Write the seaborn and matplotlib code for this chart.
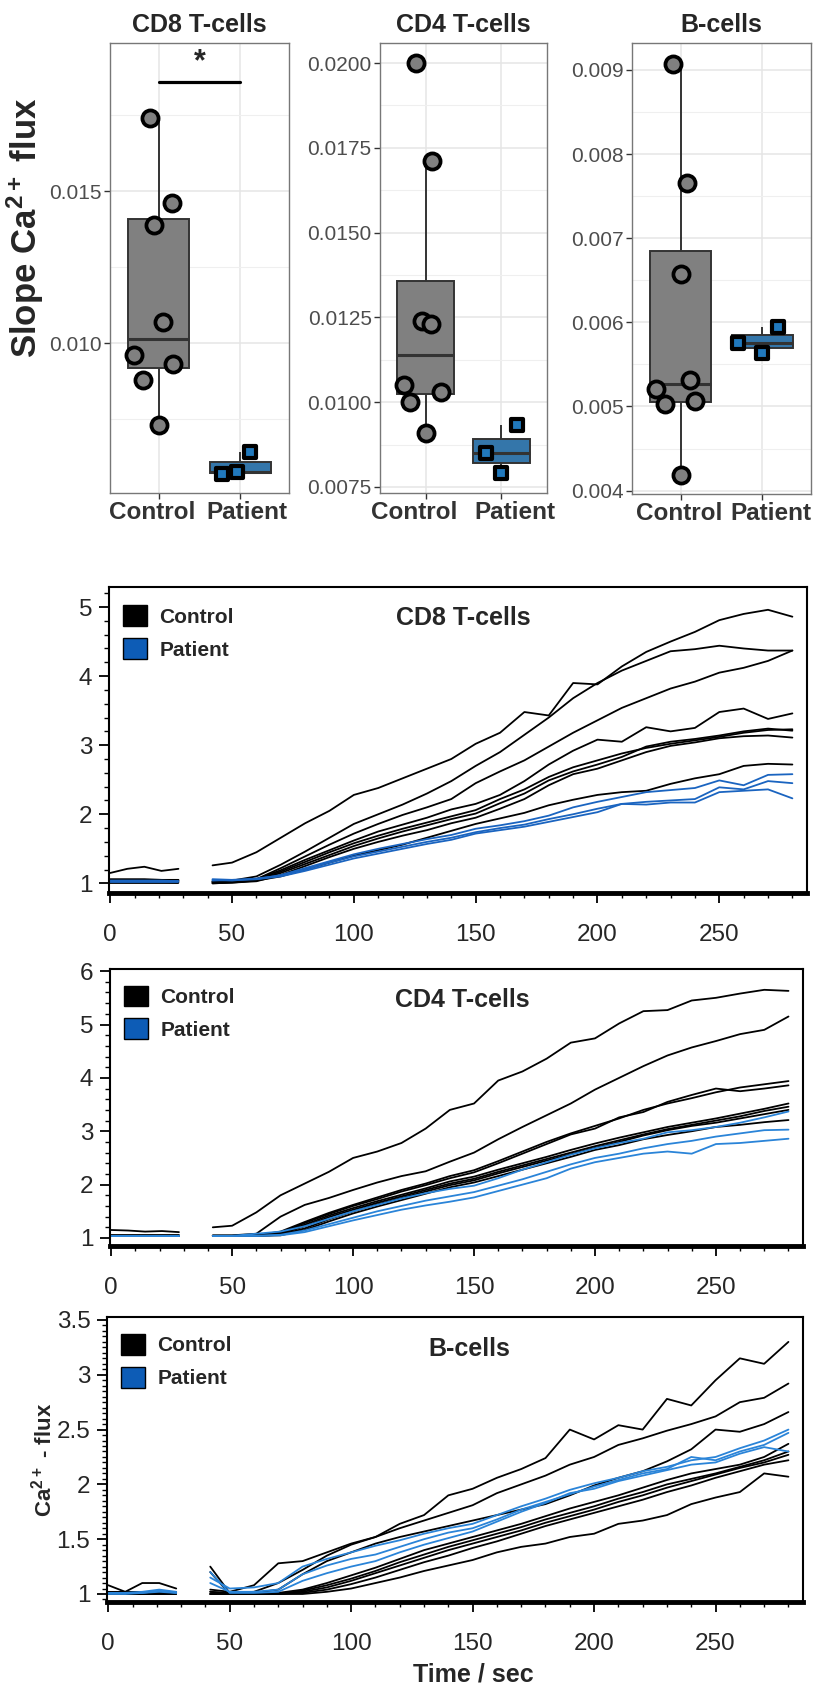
import numpy as np
import pandas as pd
import matplotlib
matplotlib.use("Agg")
import matplotlib.pyplot as plt
import matplotlib.transforms as mtransforms
from matplotlib.patches import Patch
from matplotlib.ticker import MultipleLocator, FormatStrFormatter, FixedLocator
import seaborn as sns

groups = ["Control", "Patient"]

# ---- slopes (top boxplots) ----
cd8_ctrl_slope = [0.0174, 0.0146, 0.0139, 0.0107, 0.0096, 0.0093, 0.0088, 0.0073]
cd8_pat_slope = [0.00568, 0.00575, 0.00642]
cd4_ctrl_slope = [0.0200, 0.0171, 0.0124, 0.0123, 0.0105, 0.0100, 0.0103, 0.0091]
cd4_pat_slope = [0.00932, 0.00850, 0.00791]
b_ctrl_slope = [0.00907, 0.00766, 0.00657, 0.00532, 0.00521, 0.00506, 0.00503, 0.00419]
b_pat_slope = [0.00595, 0.00575, 0.00563]

# horizontal jitter of the points (category units)
cd8_ctrl_jit = [-0.11, 0.16, -0.06, 0.05, -0.30, 0.17, -0.19, 0.0]
cd8_pat_jit = [-0.22, -0.04, 0.12]
cd4_ctrl_jit = [-0.12, 0.09, -0.05, 0.07, -0.29, -0.21, 0.20, 0.0]
cd4_pat_jit = [0.20, -0.20, 0.0]
b_ctrl_jit = [-0.10, 0.07, 0.0, 0.11, -0.30, 0.17, -0.20, 0.0]
b_pat_jit = [0.20, -0.30, 0.0]

cd8_sig_y = 0.01859
cd8_star_y = 0.01925

# ---- Ca2+ flux traces ----
t_pre = [0, 7, 14, 21, 28]
t_post = [42, 50, 60, 70, 80, 90, 100, 110, 120, 130, 140, 150, 160,
          170, 180, 190, 200, 210, 220, 230, 240, 250, 260, 270, 280]

cd8_ctrl_pre = [
    [1.15, 1.21, 1.24, 1.18, 1.21],
    [1.06, 1.06, 1.06, 1.05, 1.05],
    [1.05, 1.05, 1.05, 1.05, 1.04],
    [1.04, 1.04, 1.04, 1.04, 1.03],
    [1.03, 1.03, 1.03, 1.03, 1.03],
    [1.02, 1.02, 1.02, 1.02, 1.02],
    [1.02, 1.02, 1.02, 1.02, 1.01],
    [1.01, 1.01, 1.01, 1.01, 1.01],
]
cd8_ctrl_post = [
    [1.26, 1.30, 1.45, 1.66, 1.87, 2.05, 2.28, 2.38, 2.52, 2.66, 2.80, 3.02, 3.18, 3.48, 3.43, 3.90, 3.88, 4.14, 4.35, 4.50, 4.64, 4.81, 4.90, 4.96, 4.86],
    [1.03, 1.04, 1.10, 1.27, 1.46, 1.66, 1.86, 2.00, 2.14, 2.30, 2.48, 2.70, 2.90, 3.15, 3.40, 3.68, 3.90, 4.08, 4.22, 4.36, 4.39, 4.44, 4.40, 4.37, 4.37],
    [1.02, 1.03, 1.06, 1.22, 1.39, 1.56, 1.72, 1.86, 1.99, 2.10, 2.22, 2.45, 2.62, 2.78, 2.98, 3.18, 3.36, 3.54, 3.68, 3.82, 3.92, 4.05, 4.12, 4.22, 4.37],
    [1.02, 1.03, 1.06, 1.19, 1.34, 1.48, 1.62, 1.75, 1.85, 1.95, 2.07, 2.15, 2.28, 2.48, 2.72, 2.92, 3.08, 3.05, 3.26, 3.20, 3.25, 3.48, 3.53, 3.38, 3.46],
    [1.01, 1.02, 1.05, 1.17, 1.31, 1.45, 1.58, 1.69, 1.79, 1.88, 1.97, 2.06, 2.22, 2.36, 2.54, 2.68, 2.78, 2.88, 2.96, 3.02, 3.07, 3.12, 3.18, 3.22, 3.23],
    [1.00, 1.01, 1.04, 1.15, 1.28, 1.41, 1.54, 1.65, 1.75, 1.84, 1.93, 2.01, 2.16, 2.30, 2.49, 2.62, 2.72, 2.83, 2.98, 3.05, 3.09, 3.14, 3.20, 3.24, 3.21],
    [1.00, 1.01, 1.03, 1.12, 1.25, 1.38, 1.50, 1.60, 1.69, 1.77, 1.87, 1.95, 2.08, 2.22, 2.42, 2.58, 2.66, 2.78, 2.90, 2.99, 3.04, 3.10, 3.13, 3.14, 3.11],
    [1.02, 1.02, 1.04, 1.10, 1.20, 1.30, 1.40, 1.48, 1.56, 1.66, 1.76, 1.86, 1.94, 2.02, 2.13, 2.21, 2.28, 2.32, 2.34, 2.44, 2.52, 2.58, 2.70, 2.73, 2.72],
]
cd8_pat_pre = [
    [1.04, 1.04, 1.04, 1.04, 1.03],
    [1.03, 1.03, 1.03, 1.03, 1.03],
    [1.02, 1.02, 1.02, 1.02, 1.02],
]
cd8_pat_post = [
    [1.04, 1.05, 1.06, 1.12, 1.22, 1.32, 1.42, 1.50, 1.57, 1.64, 1.70, 1.79, 1.84, 1.90, 1.98, 2.10, 2.18, 2.25, 2.32, 2.35, 2.38, 2.49, 2.42, 2.57, 2.58],
    [1.05, 1.04, 1.07, 1.11, 1.20, 1.30, 1.39, 1.46, 1.53, 1.60, 1.66, 1.74, 1.80, 1.85, 1.93, 2.00, 2.08, 2.15, 2.18, 2.20, 2.22, 2.39, 2.36, 2.48, 2.45],
    [1.06, 1.05, 1.06, 1.10, 1.18, 1.27, 1.36, 1.43, 1.50, 1.57, 1.63, 1.72, 1.77, 1.82, 1.89, 1.96, 2.03, 2.15, 2.14, 2.17, 2.17, 2.32, 2.34, 2.36, 2.23],
]

cd4_ctrl_pre = [
    [1.15, 1.14, 1.12, 1.13, 1.11],
    [1.05, 1.05, 1.05, 1.05, 1.05],
    [1.04, 1.04, 1.04, 1.04, 1.04],
    [1.04, 1.04, 1.04, 1.04, 1.04],
    [1.04, 1.04, 1.04, 1.04, 1.04],
    [1.04, 1.04, 1.04, 1.04, 1.04],
    [1.04, 1.04, 1.04, 1.04, 1.04],
    [1.04, 1.04, 1.04, 1.04, 1.04],
]
cd4_ctrl_post = [
    [1.20, 1.23, 1.48, 1.80, 2.02, 2.24, 2.50, 2.62, 2.78, 3.05, 3.40, 3.52, 3.95, 4.12, 4.36, 4.66, 4.74, 5.02, 5.25, 5.27, 5.45, 5.50, 5.58, 5.65, 5.63],
    [1.05, 1.05, 1.08, 1.40, 1.62, 1.75, 1.90, 2.04, 2.16, 2.25, 2.43, 2.60, 2.85, 3.08, 3.30, 3.52, 3.78, 4.00, 4.22, 4.42, 4.57, 4.69, 4.82, 4.90, 5.15],
    [1.04, 1.04, 1.05, 1.12, 1.30, 1.47, 1.62, 1.76, 1.90, 2.02, 2.16, 2.27, 2.44, 2.62, 2.80, 2.96, 3.10, 3.24, 3.40, 3.52, 3.62, 3.73, 3.82, 3.88, 3.94],
    [1.04, 1.04, 1.05, 1.10, 1.28, 1.45, 1.60, 1.73, 1.87, 1.99, 2.12, 2.23, 2.40, 2.58, 2.76, 2.94, 3.05, 3.26, 3.36, 3.55, 3.68, 3.80, 3.75, 3.80, 3.86],
    [1.04, 1.04, 1.05, 1.09, 1.25, 1.42, 1.56, 1.69, 1.81, 1.93, 2.06, 2.15, 2.28, 2.40, 2.52, 2.65, 2.77, 2.88, 2.98, 3.08, 3.16, 3.24, 3.33, 3.42, 3.52],
    [1.04, 1.04, 1.05, 1.07, 1.22, 1.39, 1.53, 1.66, 1.78, 1.90, 2.02, 2.11, 2.24, 2.36, 2.48, 2.60, 2.72, 2.83, 2.94, 3.04, 3.12, 3.20, 3.28, 3.38, 3.46],
    [1.04, 1.04, 1.04, 1.06, 1.18, 1.35, 1.50, 1.63, 1.75, 1.87, 1.99, 2.08, 2.21, 2.33, 2.45, 2.57, 2.69, 2.80, 2.92, 3.02, 3.10, 3.16, 3.24, 3.32, 3.40],
    [1.04, 1.04, 1.04, 1.05, 1.15, 1.31, 1.46, 1.59, 1.71, 1.83, 1.95, 2.04, 2.16, 2.28, 2.40, 2.52, 2.65, 2.74, 2.85, 2.93, 3.00, 3.08, 3.12, 3.17, 3.21],
]
cd4_pat_pre = [
    [1.04, 1.04, 1.04, 1.04, 1.04],
    [1.04, 1.04, 1.04, 1.04, 1.04],
    [1.04, 1.04, 1.04, 1.04, 1.04],
]
cd4_pat_post = [
    [1.04, 1.04, 1.08, 1.12, 1.22, 1.36, 1.50, 1.62, 1.74, 1.84, 1.92, 1.98, 2.12, 2.28, 2.42, 2.56, 2.68, 2.78, 2.86, 2.98, 3.02, 3.08, 3.16, 3.26, 3.37],
    [1.04, 1.04, 1.04, 1.06, 1.14, 1.26, 1.38, 1.50, 1.60, 1.70, 1.78, 1.86, 1.98, 2.10, 2.24, 2.38, 2.50, 2.58, 2.68, 2.76, 2.82, 2.90, 2.96, 3.02, 3.03],
    [1.04, 1.04, 1.04, 1.05, 1.11, 1.22, 1.33, 1.43, 1.53, 1.61, 1.68, 1.76, 1.88, 2.00, 2.12, 2.30, 2.42, 2.50, 2.58, 2.62, 2.58, 2.76, 2.78, 2.82, 2.86],
]

b_ctrl_pre = [
    [1.08, 1.02, 1.10, 1.10, 1.05],
    [1.02, 1.02, 1.02, 1.02, 1.02],
    [1.02, 1.02, 1.02, 1.02, 1.02],
    [1.01, 1.01, 1.01, 1.01, 1.01],
    [1.01, 1.01, 1.01, 1.01, 1.01],
    [1.00, 1.00, 1.00, 1.00, 1.00],
    [1.00, 1.00, 1.00, 1.00, 1.00],
    [1.00, 1.00, 1.00, 1.00, 1.00],
]
b_ctrl_post = [
    [1.04, 1.02, 1.08, 1.28, 1.30, 1.38, 1.46, 1.52, 1.64, 1.72, 1.90, 1.96, 2.06, 2.14, 2.24, 2.50, 2.41, 2.54, 2.50, 2.78, 2.72, 2.95, 3.15, 3.10, 3.30],
    [1.25, 1.01, 1.02, 1.10, 1.22, 1.35, 1.45, 1.52, 1.60, 1.67, 1.74, 1.81, 1.92, 2.00, 2.08, 2.18, 2.25, 2.36, 2.42, 2.49, 2.55, 2.62, 2.75, 2.79, 2.92],
    [1.02, 1.01, 1.01, 1.04, 1.18, 1.30, 1.38, 1.46, 1.52, 1.57, 1.62, 1.67, 1.72, 1.77, 1.82, 1.90, 1.99, 2.06, 2.12, 2.21, 2.32, 2.50, 2.48, 2.55, 2.66],
    [1.20, 1.00, 1.00, 1.01, 1.04, 1.10, 1.17, 1.24, 1.32, 1.40, 1.46, 1.52, 1.58, 1.64, 1.71, 1.78, 1.84, 1.90, 1.97, 2.04, 2.10, 2.14, 2.18, 2.25, 2.37],
    [1.02, 1.00, 1.00, 1.00, 1.03, 1.08, 1.14, 1.21, 1.29, 1.36, 1.43, 1.49, 1.55, 1.61, 1.68, 1.74, 1.80, 1.87, 1.93, 2.00, 2.05, 2.10, 2.16, 2.22, 2.30],
    [1.00, 1.00, 1.00, 1.00, 1.02, 1.06, 1.12, 1.19, 1.26, 1.33, 1.40, 1.46, 1.52, 1.58, 1.65, 1.71, 1.77, 1.84, 1.90, 1.97, 2.03, 2.09, 2.15, 2.20, 2.27],
    [1.00, 1.00, 1.00, 1.00, 1.01, 1.04, 1.09, 1.15, 1.22, 1.29, 1.35, 1.42, 1.48, 1.55, 1.62, 1.68, 1.74, 1.80, 1.86, 1.93, 1.99, 2.06, 2.12, 2.18, 2.22],
    [1.00, 1.00, 1.00, 1.00, 1.00, 1.02, 1.05, 1.10, 1.15, 1.21, 1.26, 1.31, 1.38, 1.43, 1.46, 1.52, 1.55, 1.64, 1.67, 1.72, 1.82, 1.88, 1.93, 2.10, 2.07],
]
b_pat_pre = [
    [1.01, 1.01, 1.02, 1.04, 1.02],
    [1.01, 1.01, 1.01, 1.03, 1.01],
    [1.00, 1.00, 1.01, 1.02, 1.01],
]
b_pat_post = [
    [1.15, 1.05, 1.06, 1.10, 1.25, 1.32, 1.38, 1.44, 1.49, 1.55, 1.60, 1.64, 1.72, 1.80, 1.87, 1.95, 2.01, 2.06, 2.12, 2.16, 2.22, 2.25, 2.33, 2.40, 2.50],
    [1.10, 1.02, 1.02, 1.04, 1.18, 1.26, 1.32, 1.36, 1.43, 1.50, 1.56, 1.60, 1.68, 1.77, 1.84, 1.91, 1.98, 2.04, 2.10, 2.14, 2.25, 2.22, 2.30, 2.36, 2.47],
    [1.20, 1.01, 1.01, 1.02, 1.12, 1.19, 1.25, 1.30, 1.38, 1.45, 1.51, 1.57, 1.66, 1.75, 1.83, 1.92, 1.96, 2.03, 2.08, 2.13, 2.18, 2.20, 2.28, 2.34, 2.30],
]

# ---- style ----
sns.set_theme(style="white")
plt.rcParams["font.family"] = ["Liberation Sans", "DejaVu Sans"]
plt.rcParams["mathtext.fontset"] = "custom"
plt.rcParams["mathtext.rm"] = "Liberation Sans"
plt.rcParams["mathtext.bf"] = "Liberation Sans:bold"

GREY = "#808080"
BOX_BLUE = "#2179bd"
LEG_BLUE = "#0d5cb6"

W, H = 817, 1686
fig = plt.figure(figsize=(W / 100, H / 100), dpi=100)
fig.patch.set_facecolor("white")


def px_rect(left, top, right, bottom):
    return [left / W, 1 - bottom / H, (right - left) / W, (bottom - top) / H]


def box_panel(rect, title, ctrl, pat, ctrl_jit, pat_jit, ylim, major, minor, fmt, lbl_shift):
    ax = fig.add_axes(rect)
    df = pd.DataFrame({"group": ["Control"] * len(ctrl) + ["Patient"] * len(pat),
                       "slope": ctrl + pat})
    sns.boxplot(data=df, x="group", y="slope", hue="group", order=groups,
                palette={"Control": GREY, "Patient": BOX_BLUE}, width=0.75,
                showfliers=False, linewidth=1.4, linecolor="#333333",
                capprops={"visible": False}, medianprops={"linewidth": 2.2},
                legend=False, ax=ax)
    pts = df.copy()
    pts["xpos"] = [0 + j for j in ctrl_jit] + [1 + j for j in pat_jit]
    sns.scatterplot(data=pts[pts.group == "Control"], x="xpos", y="slope", marker="o",
                    s=135, color=GREY, edgecolor="black", linewidth=2.7, zorder=5, ax=ax)
    sns.scatterplot(data=pts[pts.group == "Patient"], x="xpos", y="slope", marker="s",
                    s=64, color=BOX_BLUE, edgecolor="black", linewidth=3.0, zorder=5, ax=ax)
    ax.set_xlim(-0.6, 1.6)
    ax.set_ylim(*ylim)
    ax.set_xticks([0, 1])
    ax.set_xticklabels(groups)
    ax.yaxis.set_major_locator(FixedLocator(major))
    ax.yaxis.set_minor_locator(FixedLocator(minor))
    ax.xaxis.set_minor_locator(FixedLocator([0.5]))
    ax.yaxis.set_major_formatter(FormatStrFormatter(fmt))
    ax.set_axisbelow(True)
    ax.grid(True, which="major", color="#e5e5e5", lw=1.1)
    ax.grid(True, which="minor", axis="y", color="#efefef", lw=0.8)
    ax.tick_params(axis="both", which="major", direction="out", length=4, width=1,
                   color="#333333", labelsize=15, labelcolor="#4d4d4d", pad=2,
                   bottom=True, left=True)
    ax.tick_params(which="minor", length=0)
    for lbl, dx in zip(ax.get_xticklabels(), lbl_shift):
        lbl.set_fontweight("bold")
        lbl.set_fontsize(17.5)
        lbl.set_color("#333333")
        lbl.set_transform(lbl.get_transform() +
                          mtransforms.ScaledTranslation(dx / 100, 0, fig.dpi_scale_trans))
    for s in ax.spines.values():
        s.set_color("#777777")
        s.set_linewidth(1.0)
    ax.set_xlabel("")
    ax.set_ylabel("")
    ax.set_title(title, fontsize=18, fontweight="bold", pad=8)
    return ax


def line_panel(rect, title, ctrl_pre, ctrl_post, pat_pre, pat_post, line_blue,
               ylim, ymajor, yminor, title_pos):
    rows = []
    for grp, pre, post in (("Control", ctrl_pre, ctrl_post), ("Patient", pat_pre, pat_post)):
        for i, (a, b) in enumerate(zip(pre, post)):
            rows += [(grp, f"{grp}{i}a", t, v) for t, v in zip(t_pre, a)]
            rows += [(grp, f"{grp}{i}b", t, v) for t, v in zip(t_post, b)]
    df = pd.DataFrame(rows, columns=["group", "unit", "time", "flux"])
    ax = fig.add_axes(rect)
    sns.lineplot(data=df, x="time", y="flux", hue="group", units="unit", estimator=None,
                 hue_order=groups, palette={"Control": "black", "Patient": line_blue},
                 lw=1.3, legend=False, ax=ax)
    ax.set_xlim(-0.5, 286)
    ax.set_ylim(*ylim)
    ax.xaxis.set_major_locator(MultipleLocator(50))
    ax.xaxis.set_minor_locator(MultipleLocator(10))
    ax.yaxis.set_major_locator(MultipleLocator(ymajor))
    ax.yaxis.set_minor_locator(MultipleLocator(yminor))
    ax.yaxis.set_major_formatter(FormatStrFormatter("%g"))
    ax.tick_params(axis="both", which="major", direction="out", length=7, width=1.3,
                   color="black", labelsize=17.5, bottom=True, left=True)
    ax.tick_params(axis="both", which="minor", direction="out", length=3.5, width=1.0,
                   color="black", bottom=True, left=True)
    ax.tick_params(axis="x", which="major", pad=15)
    ax.tick_params(axis="y", which="major", pad=5)
    for s in ax.spines.values():
        s.set_color("black")
        s.set_linewidth(1.5)
    ax.spines["bottom"].set_linewidth(3.5)
    ax.set_xlabel("")
    ax.set_ylabel("")
    ax.text(title_pos[0], title_pos[1], title, transform=ax.transAxes, ha="center",
            va="center", fontsize=18, fontweight="bold")
    handles = [Patch(facecolor="black", edgecolor="black"),
               Patch(facecolor=LEG_BLUE, edgecolor="black")]
    ax.legend(handles, groups, loc="upper left", bbox_to_anchor=(0.02, 0.94),
              frameon=False, borderpad=0, borderaxespad=0, handlelength=1.15,
              handleheight=1.15, handletextpad=0.6, labelspacing=0.55,
              prop={"weight": "bold", "size": 15})
    return ax


# ---- top row: slopes ----
ax1 = box_panel(px_rect(110, 43, 289, 493), "CD8 T-cells", cd8_ctrl_slope, cd8_pat_slope,
                cd8_ctrl_jit, cd8_pat_jit, (0.00507, 0.01987),
                [0.010, 0.015], [0.0075, 0.0125, 0.0175], "%.3f", (-7, 7))
ax1.plot([0, 1], [cd8_sig_y, cd8_sig_y], color="black", lw=2.3, zorder=6)
ax1.text(0.5, cd8_star_y, "*", ha="center", va="center", fontsize=22, fontweight="bold")

box_panel(px_rect(380, 43, 547, 493), "CD4 T-cells", cd4_ctrl_slope, cd4_pat_slope,
          cd4_ctrl_jit, cd4_pat_jit, (0.00732, 0.02059),
          [0.0075, 0.0100, 0.0125, 0.0150, 0.0175, 0.0200],
          [0.00875, 0.01125, 0.01375, 0.01625, 0.01875], "%.4f", (-11, 13))

box_panel(px_rect(632, 43, 811, 494), "B-cells", b_ctrl_slope, b_pat_slope,
          b_ctrl_jit, b_pat_jit, (0.00396, 0.00932),
          [0.004, 0.005, 0.006, 0.007, 0.008, 0.009],
          [0.0045, 0.0055, 0.0065, 0.0075, 0.0085], "%.3f", (-2, 9))

fig.text(25 / W, 1 - 228 / H, r"Slope $\mathbf{Ca^{2+}}$ flux", rotation=90,
         ha="center", va="center", fontsize=25, fontweight="bold")

# ---- line plots ----
line_panel(px_rect(109, 587, 807, 893), "CD8 T-cells", cd8_ctrl_pre, cd8_ctrl_post,
           cd8_pat_pre, cd8_pat_post, "#1a64c0", (0.86, 5.29), 1, 0.2, (0.507, 0.90))
line_panel(px_rect(110, 969, 803, 1246), "CD4 T-cells", cd4_ctrl_pre, cd4_ctrl_post,
           cd4_pat_pre, cd4_pat_post, "#2a84d8", (0.85, 6.04), 1, 0.2, (0.509, 0.888))
ax_b = line_panel(px_rect(107, 1317, 803, 1602), "B-cells", b_ctrl_pre, b_ctrl_post,
                  b_pat_pre, b_pat_post, "#2a84d8", (0.927, 3.527), 0.5, 0.05, (0.52, 0.888))
ax_b.set_ylabel(r"$\mathbf{Ca^{2+}}$ - flux", fontsize=16, fontweight="bold")
ax_b.yaxis.set_label_coords(-0.073, 0.5)
ax_b.set_xlabel("Time / sec", fontsize=18, fontweight="bold")
ax_b.xaxis.set_label_coords(0.526, -0.212)

fig.savefig("out.png", dpi=100)
